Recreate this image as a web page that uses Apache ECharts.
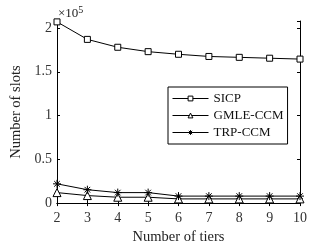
<!DOCTYPE html>
<html>
<head>
<meta charset="utf-8">
<script src="https://cdn.jsdelivr.net/npm/echarts@6/dist/echarts.min.js"></script>
<style>
  html, body { margin: 0; padding: 0; background: #fff; }
  #chart { width: 310px; height: 250px; }
</style>
</head>
<body>
<div id="chart"></div>
<script>
// Values are in units of 1e5 (axis shows a ×10^5 multiplier)
const tiers = [2, 3, 4, 5, 6, 7, 8, 9, 10]
const sicp = [2.07, 1.87, 1.78, 1.73, 1.70, 1.675, 1.665, 1.655, 1.645]
const gmle = [0.12, 0.086, 0.067, 0.067, 0.048, 0.048, 0.048, 0.048, 0.048]
const trp = [0.22, 0.153, 0.12, 0.12, 0.08, 0.08, 0.08, 0.08, 0.08]
const yTicks = [0, 0.5, 1, 1.5, 2]

const FONT = 'Liberation Serif'
const star = 'path://M0,-5L0,5M-5,0L5,0M-3.5,-3.5L3.5,3.5M-3.5,3.5L3.5,-3.5'

const pairs = (ys) => tiers.map((t, i) => [t, ys[i]])

const chart = echarts.init(document.getElementById('chart'))

const baseX = {
  type: 'value', min: 2, max: 10, interval: 1,
  axisLine: { lineStyle: { color: '#000', width: 1 } },
  axisTick: { inside: true, length: 3, lineStyle: { color: '#000' } },
  splitLine: { show: false },
}
const baseY = {
  type: 'value', min: 0, max: 2.08, interval: 0.5,
  axisLine: { lineStyle: { color: '#000', width: 1 } },
  axisTick: { inside: true, length: 3, lineStyle: { color: '#000' } },
  splitLine: { show: false },
}

const line = (name, data, symbol, size) => ({
  name, type: 'line', data: pairs(data),
  symbol, symbolSize: size, showAllSymbol: true,
  lineStyle: { color: '#000', width: 1 },
  itemStyle: { color: '#fff', borderColor: '#000', borderWidth: 1 },
})

chart.setOption({
  animation: false,
  grid: { left: 57, right: 8, top: 21, bottom: 43 },
  textStyle: { fontFamily: FONT },
  xAxis: [
    Object.assign({}, baseX, {
      position: 'bottom',
      name: 'Number of tiers', nameLocation: 'middle', nameGap: 25,
      nameTextStyle: { fontFamily: FONT, fontSize: 14.5, color: '#222' },
      axisLabel: { fontFamily: FONT, fontSize: 14, color: '#333', margin: 8 },
    }),
    Object.assign({}, baseX, { position: 'top', axisLabel: { show: false } }),
  ],
  yAxis: [
    Object.assign({}, baseY, {
      position: 'left',
      name: 'Number of slots', nameLocation: 'middle', nameGap: 29,
      nameTextStyle: { fontFamily: FONT, fontSize: 14.5, color: '#222' },
      axisLabel: {
        fontFamily: FONT, fontSize: 14, color: '#333', margin: 5,
        formatter: (v) => (yTicks.includes(v) ? String(v) : ''),
      },
    }),
    Object.assign({}, baseY, { position: 'right', axisLabel: { show: false } }),
  ],
  graphic: [{
    type: 'text', left: 58, top: 5,
    style: {
      text: '×10{s|5}', fontFamily: FONT, fontSize: 13, fill: '#222',
      rich: { s: { fontFamily: FONT, fontSize: 10, verticalAlign: 'top', padding: [0, 0, 7, 0] } },
    },
  }],
  legend: {
    orient: 'vertical', left: 168, top: 87,
    backgroundColor: '#fff', borderColor: '#000', borderWidth: 1, borderRadius: 0,
    padding: [5, 4, 5, 4], itemGap: 4, itemWidth: 36, itemHeight: 6,
    itemStyle: { color: '#fff', borderColor: '#000', borderWidth: 1 },
    lineStyle: { color: '#000', width: 1 },
    textStyle: { fontFamily: FONT, fontSize: 13, color: '#111' },
    data: ['SICP', 'GMLE-CCM', 'TRP-CCM'],
  },
  series: [
    line('SICP', sicp, 'rect', 6),
    line('GMLE-CCM', gmle, 'triangle', 8),
    line('TRP-CCM', trp, star, 8),
  ],
})
</script>
</body>
</html>
